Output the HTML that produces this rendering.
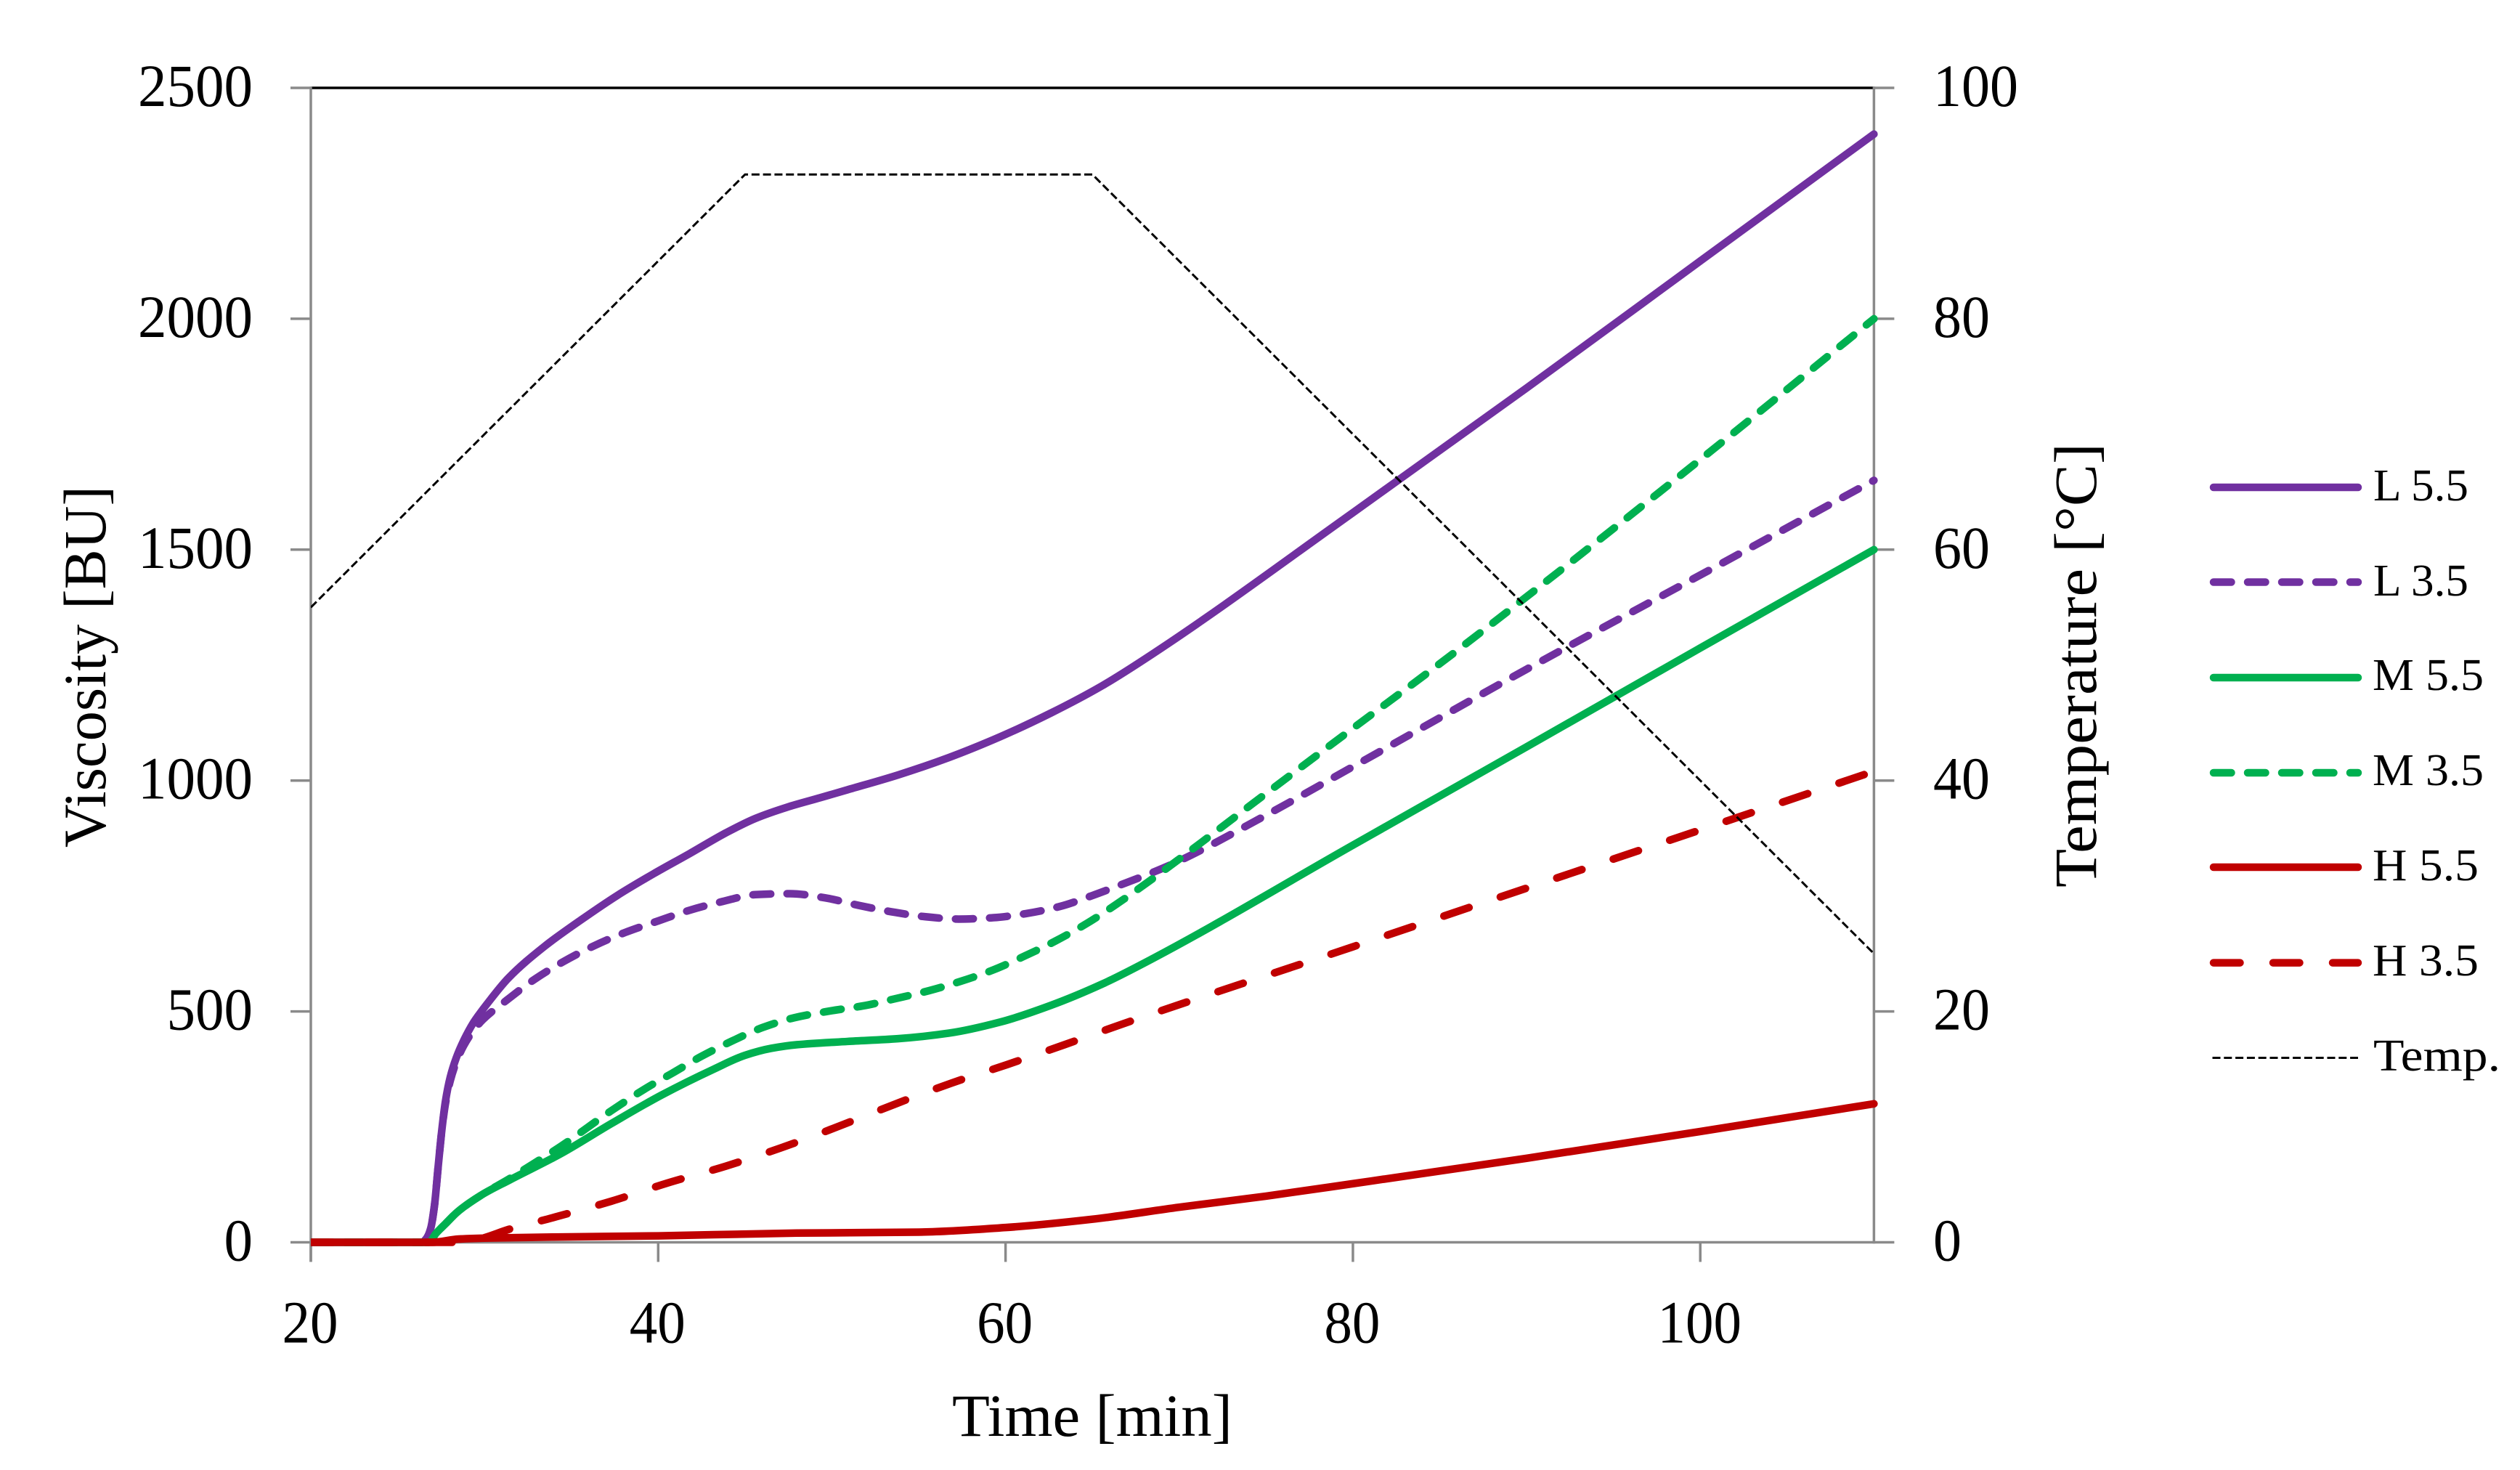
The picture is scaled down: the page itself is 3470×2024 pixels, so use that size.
<!DOCTYPE html>
<html lang="en">
<head>
<meta charset="utf-8">
<title>Viscosity and temperature over time</title>
<style>
html,body{margin:0;padding:0;background:#fff;}
body{width:3470px;height:2024px;overflow:hidden;}
svg{display:block;}
text{font-family:"Liberation Serif","DejaVu Serif",serif;fill:#000;}
</style>
</head>
<body>
<svg id="chart" xmlns="http://www.w3.org/2000/svg" width="3470" height="2024" viewBox="0 0 3470 2024">
  <rect x="0" y="0" width="3470" height="2024" fill="#ffffff"/>
  <defs><clipPath id="plot-clip"><rect id="plot-clip-rect" x="0" y="0" width="3470" height="2024"/></clipPath></defs>
  <g id="axes"></g>
  <g id="series" clip-path="url(#plot-clip)"></g>

  <text x="1311" y="1977" font-size="83" textLength="386" lengthAdjust="spacingAndGlyphs">Time [min]</text>
  <text transform="translate(145,1167) rotate(-90)" x="0" y="0" font-size="83" textLength="498" lengthAdjust="spacingAndGlyphs">Viscosity [BU]</text>
  <text transform="translate(2886,1222) rotate(-90)" x="0" y="0" font-size="83" textLength="612" lengthAdjust="spacingAndGlyphs">Temperature [°C]</text>

  <g font-size="62">
    <g>
      <line x1="3048" y1="671" x2="3247" y2="671" stroke="#7030A0" stroke-width="10.5" stroke-linecap="round"/>
      <text x="3268" y="689" textLength="131" lengthAdjust="spacingAndGlyphs">L 5.5</text>
    </g>
    <g>
      <line x1="3048" y1="801.5" x2="3247" y2="801.5" stroke="#7030A0" stroke-width="10.5" stroke-linecap="round" stroke-dasharray="24.5 22.5"/>
      <text x="3268" y="820" textLength="131" lengthAdjust="spacingAndGlyphs">L 3.5</text>
    </g>
    <g>
      <line x1="3048" y1="933" x2="3247" y2="933" stroke="#00B050" stroke-width="10.5" stroke-linecap="round"/>
      <text x="3267" y="950" textLength="153" lengthAdjust="spacingAndGlyphs">M 5.5</text>
    </g>
    <g>
      <line x1="3048" y1="1064" x2="3247" y2="1064" stroke="#00B050" stroke-width="10.5" stroke-linecap="round" stroke-dasharray="24.5 22.5"/>
      <text x="3267" y="1081" textLength="153" lengthAdjust="spacingAndGlyphs">M 3.5</text>
    </g>
    <g>
      <line x1="3048" y1="1194" x2="3247" y2="1194" stroke="#C00000" stroke-width="10.5" stroke-linecap="round"/>
      <text x="3267" y="1212" textLength="146" lengthAdjust="spacingAndGlyphs">H 5.5</text>
    </g>
    <g>
      <line x1="3048" y1="1325.6" x2="3247" y2="1325.6" stroke="#C00000" stroke-width="10.5" stroke-linecap="round" stroke-dasharray="36.5 45.5"/>
      <text x="3267" y="1343" textLength="146" lengthAdjust="spacingAndGlyphs">H 3.5</text>
    </g>
    <g>
      <line x1="3046.5" y1="1456.5" x2="3247" y2="1456.5" stroke="#000000" stroke-width="3" stroke-dasharray="11 4.8"/>
      <text x="3268" y="1474" textLength="175" lengthAdjust="spacingAndGlyphs">Temp.</text>
    </g>
  </g>
</svg>
<script>
// ---- Chart data ----
const xTickLabels = [20, 40, 60, 80, 100];
const yTickLabels = [0, 500, 1000, 1500, 2000, 2500];
const y2TickLabels = [0, 20, 40, 60, 80, 100];

const l55Time = [20, 26.4, 26.65, 26.9, 27.12, 27.33, 27.54, 27.75, 28.03, 28.37, 28.79, 29.35, 29.7, 30.12, 31.37, 33.46, 35.55, 37.64, 39.73, 41.82, 43.91, 45.6, 47.4, 49.35, 50.9, 53.8, 56.75, 59.7, 62.6, 65.55, 68.5, 80, 90, 100, 110];
const l55Values = [0, 0, 8, 30, 80, 163, 242, 305, 358, 399, 436, 475, 494, 515, 572, 641, 698, 751, 798, 842, 887, 918, 942, 963, 980, 1012, 1050, 1095, 1146, 1205, 1275, 1580, 1850, 2125, 2400];

const l35Time = [20, 26.4, 26.65, 26.9, 27.12, 27.33, 27.54, 27.75, 28.03, 28.37, 28.79, 29.35, 29.9, 31.3, 32.9, 34.55, 36.3, 38.1, 40, 41.8, 43.7, 45.6, 47.6, 49.6, 51.5, 53.4, 55.4, 57.3, 59.3, 61.2, 63.1, 65, 66.9, 68.6, 70, 75, 80, 90, 100, 110];
const l35Values = [0, 0, 8, 30, 80, 163, 242, 300, 350, 390, 425, 458, 482, 525, 570, 608, 642, 671, 696, 719, 738, 753, 755, 746, 730, 716, 705, 700, 703, 712, 727, 751, 778, 803, 826, 925, 1030, 1241, 1445, 1650];

const m55Time = [20, 26.8, 27.2, 27.75, 28.45, 29.85, 31.45, 34.4, 37.3, 40.2, 43.2, 45, 46.5, 48, 50.9, 53.8, 56.75, 59.7, 62.6, 65.55, 68.5, 80, 90, 100, 110];
const m55Values = [0, 0, 19, 40, 66, 103, 135, 192, 257, 319, 375, 405, 420, 428, 435, 441, 453, 477, 513, 559, 615, 860, 1073, 1287, 1500];

const m35Time = [20, 26.8, 27.2, 27.75, 28.45, 29.85, 31.45, 32.3, 34.4, 37.3, 39.4, 40.8, 42.45, 44.2, 46, 47.8, 49.9, 51.8, 53.7, 55.6, 57.4, 59.3, 61.1, 62.9, 64.7, 66.3, 67.9, 70, 75, 80, 85, 90, 100, 110];
const m35Values = [0, 0, 19, 40, 66, 103, 138, 158, 208, 285, 336, 366, 402, 435, 465, 486, 501, 512, 528, 545, 565, 590, 620, 653, 691, 730, 772, 830, 972, 1113, 1253, 1398, 1695, 2000];

const h55Time = [20, 27, 28.5, 30, 40, 48, 55, 60, 65, 70, 75, 80, 90, 100, 110];
const h55Values = [0, 0, 7, 9, 14, 20, 22, 32, 50, 76, 100, 127, 182, 240, 300];

const h35Time = [20, 29, 30, 31.4, 33.9, 37.3, 40.5, 43.9, 47.1, 56.9, 60.1, 63.4, 66.6, 80, 90, 100, 110];
const h35Values = [0, 0, 10, 28, 53, 89, 128, 165, 205, 345, 385, 428, 471, 640, 767, 893, 1020];

const tempTime = [20, 45, 65, 110];
const tempValues = [55, 92.5, 92.5, 25];

// ---- Axis functions ----
function xScale(t) { return 428 + (t - 20) * (2580.4 - 428) / 90; }
function yScale(v) { return 1710.5 - v * (1710.5 - 121) / 2500; }
function y2Scale(v) { return 1710.5 - v * (1710.5 - 121) / 100; }

const NS = 'http://www.w3.org/2000/svg';
const axesG = document.getElementById('axes');
const seriesG = document.getElementById('series');
const AXIS = '#8a8a8a';

function make(tag, parent, props) {
  const n = document.createElementNS(NS, tag);
  for (const k in props) n.setAttribute(k, props[k]);
  parent.appendChild(n);
  return n;
}

// Monotone cubic path through the data
function smoothPath(pts) {
  const n = pts.length, dx = [], m = [], t = [];
  for (let i = 0; i < n - 1; i++) {
    dx[i] = pts[i + 1][0] - pts[i][0];
    m[i] = (pts[i + 1][1] - pts[i][1]) / dx[i];
  }
  t[0] = m[0]; t[n - 1] = m[n - 2];
  for (let i = 1; i < n - 1; i++) {
    if (m[i - 1] * m[i] <= 0) { t[i] = 0; }
    else {
      const w1 = 2 * dx[i] + dx[i - 1], w2 = dx[i] + 2 * dx[i - 1];
      t[i] = (w1 + w2) / (w1 / m[i - 1] + w2 / m[i]);
    }
  }
  let d = 'M' + pts[0][0].toFixed(2) + ' ' + pts[0][1].toFixed(2);
  for (let i = 0; i < n - 1; i++) {
    const h = dx[i] / 3;
    d += ' C' + (pts[i][0] + h).toFixed(2) + ' ' + (pts[i][1] + t[i] * h).toFixed(2) +
         ' ' + (pts[i + 1][0] - h).toFixed(2) + ' ' + (pts[i + 1][1] - t[i + 1] * h).toFixed(2) +
         ' ' + pts[i + 1][0].toFixed(2) + ' ' + pts[i + 1][1].toFixed(2);
  }
  return d;
}

function linePath(pts) {
  return pts.map(function (p, i) { return (i ? 'L' : 'M') + p[0].toFixed(2) + ' ' + p[1].toFixed(2); }).join(' ');
}

// ---- Clip only the left edge of the plot ----
document.getElementById('plot-clip-rect').setAttribute('x', xScale(20));

// ---- Axes ----
const topLine = make('line', axesG, { x1: xScale(20), y1: yScale(2500), x2: xScale(110), y2: yScale(2500), stroke: '#000', 'stroke-width': 3.5 });



const xAxis = make('line', axesG, { x1: xScale(20), y1: yScale(0), x2: xScale(110), y2: yScale(0), stroke: AXIS, 'stroke-width': 3.5 });



const yAxis = make('line', axesG, { x1: xScale(20), y1: yScale(2500) - 1.7, x2: xScale(20), y2: yScale(0) + 27, stroke: AXIS, 'stroke-width': 3.5 });



const y2Axis = make('line', axesG, { x1: xScale(110), y1: y2Scale(100) - 1.7, x2: xScale(110), y2: y2Scale(0) + 1.7, stroke: AXIS, 'stroke-width': 3.5 });



xTickLabels.forEach(function (v) {
  const tick = make('line', axesG, { x1: xScale(v), y1: yScale(0), x2: xScale(v), y2: yScale(0) + 27, stroke: AXIS, 'stroke-width': 3.5 });
  
  
  const label = make('text', axesG, { x: xScale(v) - 1, y: 1848.5, 'font-size': 83, 'text-anchor': 'middle', textLength: String(v).length * 38.5, lengthAdjust: 'spacingAndGlyphs' });
  
  
  label.textContent = v;
});

yTickLabels.forEach(function (v) {
  const tick = make('line', axesG, { x1: xScale(20) - 28, y1: yScale(v), x2: xScale(20), y2: yScale(v), stroke: AXIS, 'stroke-width': 3.5 });
  
  
  const label = make('text', axesG, { x: 348, y: yScale(v) + 25, 'font-size': 83, 'text-anchor': 'end', textLength: String(v).length * 39.5, lengthAdjust: 'spacingAndGlyphs' });
  
  
  label.textContent = v;
});

y2TickLabels.forEach(function (v) {
  const tick = make('line', axesG, { x1: xScale(110), y1: y2Scale(v), x2: xScale(110) + 28, y2: y2Scale(v), stroke: AXIS, 'stroke-width': 3.5 });
  
  
  const label = make('text', axesG, { x: 2662, y: y2Scale(v) + 25, 'font-size': 83, 'text-anchor': 'start', textLength: String(v).length * 39, lengthAdjust: 'spacingAndGlyphs' });
  
  
  label.textContent = v;
});

// ---- Series ----
function pointsFrom(times, values, scale) {
  return times.map(function (t, i) { return [xScale(t), scale(values[i])]; });
}

const lineL55 = make('path', seriesG, { d: smoothPath(pointsFrom(l55Time, l55Values, yScale)), fill: 'none', stroke: '#7030A0', 'stroke-width': 10.5, 'stroke-linecap': 'round', 'stroke-linejoin': 'round' });



const lineL35 = make('path', seriesG, { d: smoothPath(pointsFrom(l35Time, l35Values, yScale)), fill: 'none', stroke: '#7030A0', 'stroke-width': 10.5, 'stroke-linecap': 'round', 'stroke-dasharray': '24.5 22.5' });



const lineM55 = make('path', seriesG, { d: smoothPath(pointsFrom(m55Time, m55Values, yScale)), fill: 'none', stroke: '#00B050', 'stroke-width': 10.5, 'stroke-linecap': 'round', 'stroke-linejoin': 'round' });



const lineM35 = make('path', seriesG, { d: smoothPath(pointsFrom(m35Time, m35Values, yScale)), fill: 'none', stroke: '#00B050', 'stroke-width': 10.5, 'stroke-linecap': 'round', 'stroke-dasharray': '24.5 22.5' });



const lineH35 = make('path', seriesG, { d: smoothPath(pointsFrom(h35Time, h35Values, yScale)), fill: 'none', stroke: '#C00000', 'stroke-width': 10.5, 'stroke-linecap': 'round', 'stroke-dasharray': '36.5 45.5', 'stroke-dashoffset': 6 });



const lineH55 = make('path', seriesG, { d: smoothPath(pointsFrom(h55Time, h55Values, yScale)), fill: 'none', stroke: '#C00000', 'stroke-width': 10.5, 'stroke-linecap': 'round', 'stroke-linejoin': 'round' });



const lineTemp = make('path', seriesG, { d: linePath(pointsFrom(tempTime, tempValues, y2Scale)), fill: 'none', stroke: '#000000', 'stroke-width': 3, 'stroke-dasharray': '11 4.8' });


</script>
</body>
</html>
